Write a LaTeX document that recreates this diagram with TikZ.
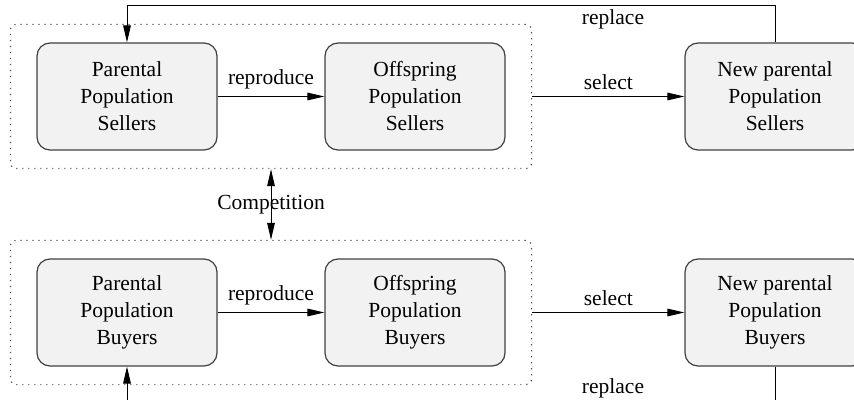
\documentclass[tikz,border=0pt]{standalone}
\usepackage{fontspec}
\setmainfont{Liberation Serif}
\usetikzlibrary{arrows.meta,positioning,fit,calc}
\tikzset{
  pop/.style={draw=black!75,fill=black!5,rounded corners=6.5pt,line width=0.6pt,
    minimum width=90pt,minimum height=53.5pt,align=center,inner sep=0pt},
  group/.style={draw=black!70,dash pattern=on 0.6pt off 2.4pt,line width=0.6pt,
    rounded corners=3pt,inner xsep=13pt,inner ysep=9pt},
}
\begin{document}
\begin{tikzpicture}[x=0.5pt,y=-0.5pt,font=\fontsize{10.75}{13.5}\selectfont,
  >={Triangle[length=8.5pt,width=3.8pt]},line width=0.5pt]
\useasboundingbox (0,0) rectangle (854,400);
\clip (0,0) rectangle (854,400);
% sellers
\node[pop] (PS) at (127,96.5) {Parental\\Population\\Sellers};
\node[pop] (OS) at (415,96.5) {Offspring\\Population\\Sellers};
\node[pop] (NS) at (775,96.5) {New parental\\Population\\Sellers};
% buyers
\node[pop] (PB) at (127,312.5) {Parental\\Population\\Buyers};
\node[pop] (OB) at (415,312.5) {Offspring\\Population\\Buyers};
\node[pop] (NB) at (775,312.5) {New parental\\Population\\Buyers};
\node[group,fit=(PS) (OS)] (GS) {};
\node[group,fit=(PB) (OB)] (GB) {};
\coordinate (mid) at (271,204);
\path[->]
(PS) edge node[above]{reproduce} (OS)
(GS.east) edge node[above]{select} (NS)
(PB) edge node[above]{reproduce} (OB)
(GB.east) edge node[above]{select} (NB);
\draw[<->] (GS.south -| mid) -- node{Competition} (GB.north -| mid);
\draw[->] (NS.north) -- ++(0,-37) -| node[pos=0.125,below,inner sep=2pt]{replace} (PS.north);
\draw[->] (NB.south) -- ++(0,39) -| node[pos=0.125,above]{replace} (PB.south);
\end{tikzpicture}
\end{document}
